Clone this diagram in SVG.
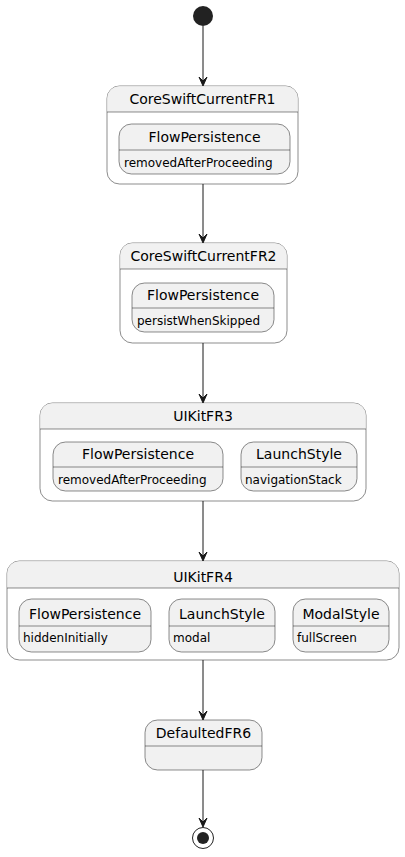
<svg xmlns="http://www.w3.org/2000/svg" width="405" height="857" viewBox="0 0 405 857">
<style>
.bg{fill:#FFFFFF}
.outer{fill:#FFFFFF;stroke:#181818;stroke-width:0.5}
.hdr{fill:#F1F1F1}
.inner{fill:#F1F1F1;stroke:#181818;stroke-width:0.5}
.sep{stroke:#181818;stroke-width:0.5}
.t{font-family:"DejaVu Sans",Verdana,sans-serif;font-size:14px;fill:#000;text-anchor:middle}
.b{font-family:"DejaVu Sans",Verdana,sans-serif;font-size:12px;fill:#000}
.edge{stroke:#181818;stroke-width:1;fill:none}
.ah{fill:#181818;stroke:#181818;stroke-width:1}
</style>
<rect class="bg" x="0" y="0" width="405" height="857"/>
<g id="start"><circle cx="203" cy="16" r="10" fill="#222222"/></g>

<g id="CoreSwiftCurrentFR1">
<rect class="outer" x="107" y="86" width="191" height="98" rx="12.5"/>
<path class="hdr" d="M107.3,112 V98.5 A12.2,12.2 0 0 1 119.5,86.3 H285.5 A12.2,12.2 0 0 1 297.7,98.5 V112 Z"/>
<line class="sep" x1="107" y1="112" x2="298" y2="112"/>
<text class="t" x="202.5" y="104">CoreSwiftCurrentFR1</text>
<g id="FR1_FlowPersistence">
<rect class="inner" x="119" y="124" width="171" height="50" rx="12.5"/>
<line class="sep" x1="119" y1="150" x2="290" y2="150"/>
<text class="t" x="204.5" y="142">FlowPersistence</text>
<text class="b" x="124" y="167">removedAfterProceeding</text>
</g>
</g>

<g id="CoreSwiftCurrentFR2">
<rect class="outer" x="120" y="243" width="167" height="100" rx="12.5"/>
<path class="hdr" d="M120.3,269 V255.5 A12.2,12.2 0 0 1 132.5,243.3 H274.5 A12.2,12.2 0 0 1 286.7,255.5 V269 Z"/>
<line class="sep" x1="120" y1="269" x2="287" y2="269"/>
<text class="t" x="203.5" y="261">CoreSwiftCurrentFR2</text>
<g id="FR2_FlowPersistence">
<rect class="inner" x="132" y="283" width="142" height="49" rx="12.5"/>
<line class="sep" x1="132" y1="308" x2="274" y2="308"/>
<text class="t" x="203" y="300">FlowPersistence</text>
<text class="b" x="137" y="325">persistWhenSkipped</text>
</g>
</g>

<g id="UIKitFR3">
<rect class="outer" x="40" y="403" width="326" height="98" rx="12.5"/>
<path class="hdr" d="M40.3,429 V415.5 A12.2,12.2 0 0 1 52.5,403.3 H353.5 A12.2,12.2 0 0 1 365.7,415.5 V429 Z"/>
<line class="sep" x1="40" y1="429" x2="366" y2="429"/>
<text class="t" x="203" y="421">UIKitFR3</text>
<g id="FR3_FlowPersistence">
<rect class="inner" x="53" y="442" width="170" height="49" rx="12.5"/>
<line class="sep" x1="53" y1="467" x2="223" y2="467"/>
<text class="t" x="138" y="459">FlowPersistence</text>
<text class="b" x="58" y="484">removedAfterProceeding</text>
</g>
<g id="FR3_LaunchStyle">
<rect class="inner" x="241" y="442" width="116" height="49" rx="12.5"/>
<line class="sep" x1="241" y1="467" x2="357" y2="467"/>
<text class="t" x="299" y="459">LaunchStyle</text>
<text class="b" x="245" y="484">navigationStack</text>
</g>
</g>

<g id="UIKitFR4">
<rect class="outer" x="7" y="561" width="392" height="99" rx="12.5"/>
<path class="hdr" d="M7.3,588 V573.5 A12.2,12.2 0 0 1 19.5,561.3 H386.5 A12.2,12.2 0 0 1 398.7,573.5 V588 Z"/>
<line class="sep" x1="7" y1="588" x2="399" y2="588"/>
<text class="t" x="203" y="582">UIKitFR4</text>
<g id="FR4_FlowPersistence">
<rect class="inner" x="19" y="599" width="132" height="53" rx="12.5"/>
<line class="sep" x1="19" y1="626" x2="151" y2="626"/>
<text class="t" x="85" y="619">FlowPersistence</text>
<text class="b" x="23" y="642">hiddenInitially</text>
</g>
<g id="FR4_LaunchStyle">
<rect class="inner" x="169" y="599" width="106" height="53" rx="12.5"/>
<line class="sep" x1="169" y1="626" x2="275" y2="626"/>
<text class="t" x="222" y="619">LaunchStyle</text>
<text class="b" x="173" y="642">modal</text>
</g>
<g id="FR4_ModalStyle">
<rect class="inner" x="293" y="599" width="96" height="53" rx="12.5"/>
<line class="sep" x1="293" y1="626" x2="389" y2="626"/>
<text class="t" x="341" y="619">ModalStyle</text>
<text class="b" x="297" y="642">fullScreen</text>
</g>
</g>

<g id="DefaultedFR6">
<rect class="inner" x="145" y="720" width="117" height="50" rx="12.5"/>
<line class="sep" x1="145" y1="746" x2="262" y2="746"/>
<text class="t" x="203.5" y="738">DefaultedFR6</text>
</g>

<g id="end">
<circle cx="203" cy="838" r="10.5" fill="none" stroke="#222222" stroke-width="1"/>
<circle cx="203" cy="838" r="6" fill="#222222"/>
</g>

<g id="connectors">
<line class="edge" x1="203" y1="26" x2="203" y2="84"/>
<polygon class="ah" points="199,77 203,86 207,77 203,81"/>
<line class="edge" x1="203" y1="184" x2="203" y2="241"/>
<polygon class="ah" points="199,234 203,243 207,234 203,238"/>
<line class="edge" x1="203" y1="343" x2="203" y2="401"/>
<polygon class="ah" points="199,394 203,403 207,394 203,398"/>
<line class="edge" x1="203" y1="501" x2="203" y2="559"/>
<polygon class="ah" points="199,552 203,561 207,552 203,556"/>
<line class="edge" x1="203" y1="660" x2="203" y2="718"/>
<polygon class="ah" points="199,711 203,720 207,711 203,715"/>
<line class="edge" x1="203" y1="770" x2="203" y2="825"/>
<polygon class="ah" points="199,818 203,827 207,818 203,822"/>
</g>
</svg>
